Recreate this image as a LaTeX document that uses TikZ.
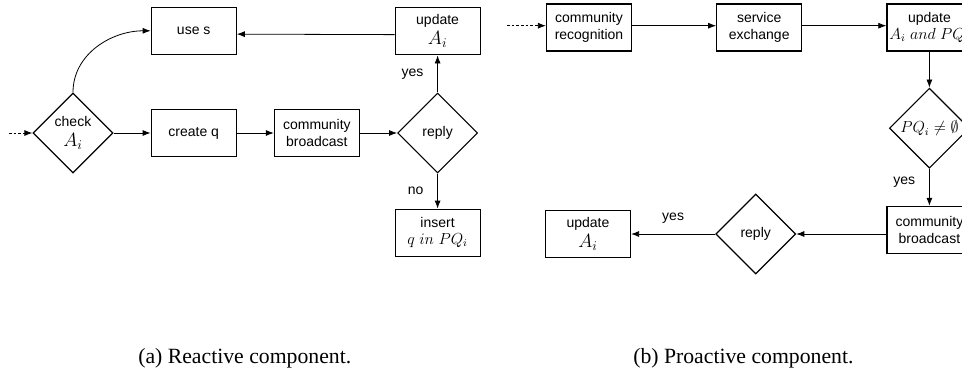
\documentclass[tikz,border=0pt]{standalone}
\usepackage{fontspec}
\setmainfont{Liberation Serif}
\setsansfont{Liberation Sans}
\usetikzlibrary{arrows.meta, positioning, shapes.geometric}

\begin{document}
\begin{tikzpicture}[
			x=0.75pt, y=-0.75pt,
			node distance=27.75pt,
			box/.style={rectangle, draw, line width=0.9pt, minimum width=63.75pt, minimum height=35.25pt, inner sep=1pt, align=center, font=\sffamily\fontsize{10.5}{12.5}\selectfont},
			decision/.style={diamond, draw, line width=0.9pt, minimum width=60pt, minimum height=60pt, inner sep=0pt, align=center, font=\sffamily\fontsize{10.5}{12.5}\selectfont},
			arrow/.style={-{Latex[length=6pt, width=4.5pt]}, line width=0.6pt},
			entry/.style={arrow, dash pattern=on 2pt off 1.5pt},
			answer/.style={midway, font=\sffamily\fontsize{10.5}{12.5}\selectfont},
			caption/.style={anchor=base west, inner sep=0pt, font=\fontsize{16.3}{19}\selectfont}
		]
		\useasboundingbox (0,0) rectangle (962,368);
		% (a) reactive
		\node[decision] (check) at (73,133) {check\\[2pt]{\Large $A_i$}};
		\coordinate (startA) at (9,133);
		\node[box, right=of check] (createq) {create q};
		\node[box, above=40.5pt of createq] (uses) {use s};
		\node[box, right=of createq] (bcast) {community\\broadcast};
		\node[decision, right=of bcast] (reply) {reply};
		\node[box, above=of reply] (updA) {update\\[2.5pt]{\Large $A_i$}};
		\node[box, below=26.25pt of reply] (insert) {insert\\{\large $q\ in\ PQ_i$}};
		
		\draw[entry] (startA) -- (check);
		\draw[arrow] (check) -- (createq);
		\draw[arrow] (createq) -- (bcast);
		\draw[arrow] (bcast) -- (reply);
		\draw[arrow] (reply) -- node[answer, left=7pt] {yes} (updA);
		\draw[arrow] (reply) -- node[answer, left=7pt] {no} (insert);
		\draw[arrow] ([yshift=-2.5pt]updA.west) -- ([yshift=-2.5pt]uses.east);
		\draw[arrow] (check.north) to[out=90, in=180] (uses.west);
		
		% (b) proactive
		\node[box] (recog) at (589,27.5) {community\\recognition};
		\coordinate (startB) at (507,25.7);
		\node[box, right=63pt of recog] (exchange) {service\\exchange};
		\node[box, right=63pt of exchange] (updPQ) {update\\{\large $A_i\ and\ PQ_i$}};
		\node[decision, below=27pt of updPQ] (nonempty) {\large $PQ_i \neq \emptyset$};
		\node[box, below=27.75pt of nonempty] (bcastB) {community\\broadcast};
		\node[decision] (replyB) at (755.7,234) {reply};
		\node[box, left=63pt of replyB] (updB) {update\\[2.5pt]{\Large $A_i$}};
		
		\draw[entry] (startB) -- (startB -| recog.west);
		\draw[arrow] (recog.east |- startB) -- (exchange.west |- startB);
		\draw[arrow] (exchange.east |- startB) -- (updPQ.west |- startB);
		\draw[arrow] (updPQ) -- (nonempty);
		\draw[arrow] (nonempty) -- node[answer, left=7pt, yshift=4pt] {yes} (bcastB);
		\draw[arrow] (replyB.east -| bcastB.west) -- (replyB);
		\draw[arrow] (replyB) -- node[answer, above=4pt] {yes} (updB);
		
		\node[caption] (capA) at (138,363) {(a) Reactive component.};
		\node[caption] (capB) at (633,363) {(b) Proactive component.};
		\end{tikzpicture}
\end{document}
